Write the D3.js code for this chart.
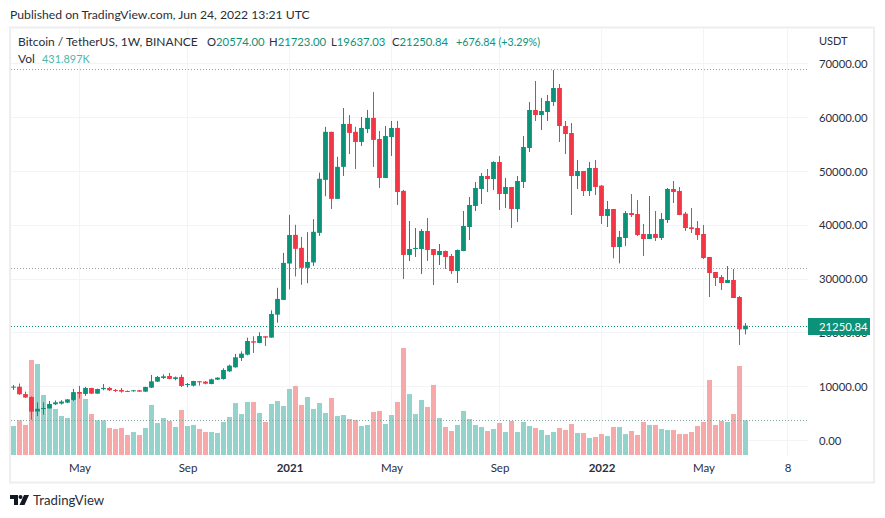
<!DOCTYPE html>
<html>
<head>
<meta charset="utf-8">
<script src="https://cdn.jsdelivr.net/npm/d3@7"></script>
<style>
  html, body { margin: 0; padding: 0; background: #fff; }
  svg { display: block; }
  text { font-family: Lato, "Open Sans", sans-serif; fill: #2a2e39; }
</style>
</head>
<body>
<svg width="885" height="518"></svg>
<script>
// weekly candles, Feb 17 2020 to Jun 20 2022
var opens = [9900,9900,8530,8000,5300,5800,5880,6640,6770,6950,7440,8930,8560,9670,8620,9450,9670,9300,9300,9120,9120,9240,8990,9730,10850,11530,11900,11350,11720,10230,10100,10910,10850,10410,11220,11340,12770,13510,15250,15860,18350,18040,19280,19030,23300,26040,32800,38130,35720,32000,33000,38500,48350,57280,44820,50770,58750,57280,55400,57800,59870,55950,48700,56320,58000,46300,34400,35500,35500,38850,35500,34390,35130,34200,31410,35130,39590,43500,46660,49070,48510,51670,45730,47030,42940,47960,54280,61340,60410,60970,62830,65430,58370,57060,49070,50000,46280,50560,47280,41640,42940,35870,37550,42190,42000,38290,37360,38290,37550,40890,46660,46280,42070,39530,39400,38290,34020,31230,30300,29180,29740,26580,20574];
var highs = [10230,10500,9000,8100,7000,7000,7250,7350,7400,7600,9500,10050,9870,9700,9550,10400,9870,9490,9670,9200,9300,9300,9900,12090,11900,12210,12460,11800,12150,10600,11000,10950,10950,11400,11650,13330,14000,16000,16480,19020,19280,20020,19300,24110,28290,34780,41850,40000,37750,38620,41050,49700,58200,57300,52640,61700,60400,58200,60050,61350,64700,57440,58370,59300,59300,46500,40700,39400,39220,41260,35500,36430,35200,34570,35400,42570,45170,47960,49630,50370,51800,52790,48700,47030,49070,56500,62830,66730,63570,64130,68770,66170,59300,58920,52050,50000,51670,52050,47400,44430,42940,38850,42570,45730,44610,40150,45350,42570,42190,46840,48140,47030,42380,43120,40700,39960,34020,31230,30670,32340,31790,26770,21723];
var lows = [9300,8400,7800,3782,4450,4700,5850,6500,6600,6850,7250,7700,8200,8550,8550,9240,9100,8930,8800,8950,8990,8950,8950,9650,10790,11350,11290,11100,9860,9800,9950,10100,10350,10350,11150,11230,12650,13450,14690,15740,16180,17980,17480,19000,21800,26000,28000,30400,28850,29150,32350,37950,45300,42950,44800,49080,53160,50380,54650,57050,50750,46850,48700,52800,43680,29930,33270,34020,30860,33280,28800,32530,31800,30860,29180,35100,37180,42570,43870,46100,46470,42750,43120,39400,40520,46840,53530,59300,57620,59300,62080,55390,53160,41820,46660,45350,45350,45540,40150,39590,33770,32840,36060,41450,37920,34200,37360,36990,37180,40340,44050,41800,38850,38480,37180,33640,26580,28620,27880,29180,26390,17660,19637.03];
var closes = [9920,8500,7900,5270,5800,5950,6700,7000,7150,7550,8900,8600,9670,8620,9480,9680,9240,9120,8990,8990,9240,8990,9860,10910,11720,11840,11350,11660,10040,10410,10970,10720,10470,11280,11590,13020,13820,15370,16050,18400,18100,19330,19030,23430,26230,32920,38100,35530,32000,33100,38700,48550,57280,44820,50770,58750,57080,55400,58000,59870,55780,48700,56500,58000,46100,34400,35500,35700,38850,35320,34390,35130,34020,31410,35320,39780,43680,46840,49070,48510,51670,45730,47030,42940,48140,54460,61340,60410,61150,63010,65430,58370,56880,49070,50000,46280,50560,47030,41640,42940,35870,37730,42190,41820,38100,37360,38290,37550,41080,46660,46100,41820,39400,39220,38100,33830,31040,30110,29180,29740,26390,20574,21250.84];
// volume in thousands
var volumes = [361,432,374,1183,1133,747,623,573,486,461,685,768,697,510,432,432,336,324,336,249,286,249,336,623,398,461,423,349,560,361,374,324,286,286,274,411,473,647,510,660,660,523,411,635,672,610,822,859,623,722,573,647,523,710,486,498,448,436,361,374,535,548,386,498,660,1332,759,510,685,598,872,461,349,299,374,548,448,374,349,299,324,398,286,423,286,411,361,336,311,249,286,336,311,386,274,274,212,224,261,237,349,349,261,299,249,411,374,374,324,311,311,261,261,286,361,411,934,374,423,411,510,1108,431.897];

var priceTicks = [0,10000,20000,30000,40000,50000,60000,70000];
var timeTicks = [11,29,46,63,81,98,115,129];
var timeLabels = ["May","Sep","2021","May","Sep","2022","May","8"];
var priceLines = [69000,32000];
var lastPrice = 21250.84;
var legend = [["O","20574.00"],["H","21723.00"],["L","19637.03"],["C","21250.84"]];
var legendX = [207,269,331,392];

var GREEN = "#0b9279", RED = "#f23645", VOL_GREEN = "#94d3cb", VOL_RED = "#f7a8a8", GRID = "#f2f4f8", FRAME = "#eeeeee";

var svg = d3.select("svg");
var x = d3.scaleLinear().domain([0, 122]).range([13.5, 745.5]);
var y = d3.scaleLinear().domain([0, 70000]).range([440, 63.4]);
var yVol = d3.scaleLinear().domain([0, 1332]).range([455, 348]);

var bars = d3.range(opens.length).map(function (i) {
    return { i: i, o: opens[i], h: highs[i], l: lows[i], c: closes[i], v: volumes[i], up: closes[i] >= opens[i] };
});

// frame
svg.append("rect").attr("x", 10).attr("y", 27.5).attr("width", 864).attr("height", 455)
    .attr("fill", "none").attr("stroke", FRAME).attr("stroke-width", 2);

// grid
svg.append("g").selectAll("line").data(priceTicks).enter().append("line")
    .attr("x1", 11).attr("x2", 808)
    .attr("y1", function (d) { return Math.round(y(d)) + 0.5; })
    .attr("y2", function (d) { return Math.round(y(d)) + 0.5; })
    .attr("stroke", GRID);
svg.append("g").selectAll("line").data(timeTicks).enter().append("line")
    .attr("y1", 28).attr("y2", 456)
    .attr("x1", function (d) { return Math.floor(x(d)) + 0.5; })
    .attr("x2", function (d) { return Math.floor(x(d)) + 0.5; })
    .attr("stroke", GRID);

// volume
svg.append("g").selectAll("rect").data(bars).enter().append("rect")
    .attr("x", function (d) { return x(d.i) - 2.5; })
    .attr("width", 5)
    .attr("y", function (d) { return yVol(d.v); })
    .attr("height", function (d) { return yVol(0) - yVol(d.v); })
    .attr("fill", function (d) { return d.up ? VOL_GREEN : VOL_RED; });

// dotted level lines
function dotted(yPos, color) {
    svg.append("line").attr("x1", 11).attr("x2", 808).attr("y1", yPos).attr("y2", yPos)
        .attr("stroke", color).attr("stroke-dasharray", "1,2");
}
priceLines.forEach(function (p) { dotted(Math.round(y(p)) + 0.5, "#9a9fa8"); });
dotted(Math.round(yVol(volumes[volumes.length - 1])) + 0.5, "#7fa39e");
dotted(Math.round(y(lastPrice)) + 0.5, GREEN);

// candles
var candle = svg.append("g").selectAll("g").data(bars).enter().append("g");
candle.append("line")
    .attr("x1", function (d) { return x(d.i); })
    .attr("x2", function (d) { return x(d.i); })
    .attr("y1", function (d) { return y(d.h); })
    .attr("y2", function (d) { return y(d.l); })
    .attr("stroke", function (d) { return d.up ? GREEN : RED; });
candle.append("rect")
    .attr("x", function (d) { return x(d.i) - 2.4; })
    .attr("width", 4.8)
    .attr("y", function (d) { return y(Math.max(d.o, d.c)); })
    .attr("height", function (d) { return Math.max(1, Math.abs(y(d.o) - y(d.c))); })
    .attr("fill", function (d) { return d.up ? GREEN : RED; });

// axes
var yAxis = d3.axisRight(y).tickValues(priceTicks).tickSize(0).tickPadding(0).tickFormat(d3.format(".2f"));
var yg = svg.append("g").attr("transform", "translate(819,0.5)").call(yAxis);
yg.select(".domain").remove();
yg.selectAll("text").attr("font-size", 11.3).style("font-family", "Lato, sans-serif");

var xAxis = d3.axisBottom(x).tickValues(timeTicks).tickSize(0).tickPadding(0)
    .tickFormat(function (d, i) { return timeLabels[i]; });
var xg = svg.append("g").attr("transform", "translate(0,464)").call(xAxis);
xg.select(".domain").remove();
xg.selectAll("text").attr("font-size", 11.5).style("font-family", "Lato, sans-serif")
    .attr("font-weight", function (d, i) { return /^20/.test(timeLabels[i]) ? "bold" : null; });

// last price tag
svg.append("rect").attr("x", 808).attr("y", Math.round(y(lastPrice)) - 8).attr("width", 62).attr("height", 17).attr("fill", GREEN);
svg.append("text").attr("x", 819).attr("y", Math.round(y(lastPrice)) + 4.5).attr("font-size", 11.3).style("fill", "#fff").text(lastPrice.toFixed(2));

// header
svg.append("text").attr("x", 10).attr("y", 19).attr("font-size", 12.2).text("Published on TradingView.com, Jun 24, 2022 13:21 UTC");
svg.append("text").attr("x", 18).attr("y", 46).attr("font-size", 12).text("Bitcoin / TetherUS, 1W, BINANCE");
legend.forEach(function (d, i) {
    var t = svg.append("text").attr("x", legendX[i]).attr("y", 46).attr("font-size", 11.3).text(d[0]);
    t.append("tspan").style("fill", GREEN).text(d[1]);
});
svg.append("text").attr("x", 456).attr("y", 46).attr("font-size", 10.7).style("fill", GREEN).text("+676.84 (+3.29%)");
svg.append("text").attr("x", 18).attr("y", 63).attr("font-size", 12).text("Vol");
svg.append("text").attr("x", 42).attr("y", 63).attr("font-size", 10.9).style("fill", "#4fb5a8").text("431.897K");
svg.append("text").attr("x", 819).attr("y", 44.5).attr("font-size", 11).text("USDT");

// footer logo and name
var logo = svg.append("g").attr("transform", "translate(10,495)").attr("fill", "#131722");
logo.append("path").attr("d", "M0 0H8V10H4V4H0Z");
logo.append("circle").attr("cx", 10.5).attr("cy", 2).attr("r", 2);
logo.append("path").attr("d", "M14 0H19L14.5 10H9.5Z");
svg.append("text").attr("x", 33).attr("y", 505).attr("font-size", 13.2).text("TradingView");
</script>
</body>
</html>
